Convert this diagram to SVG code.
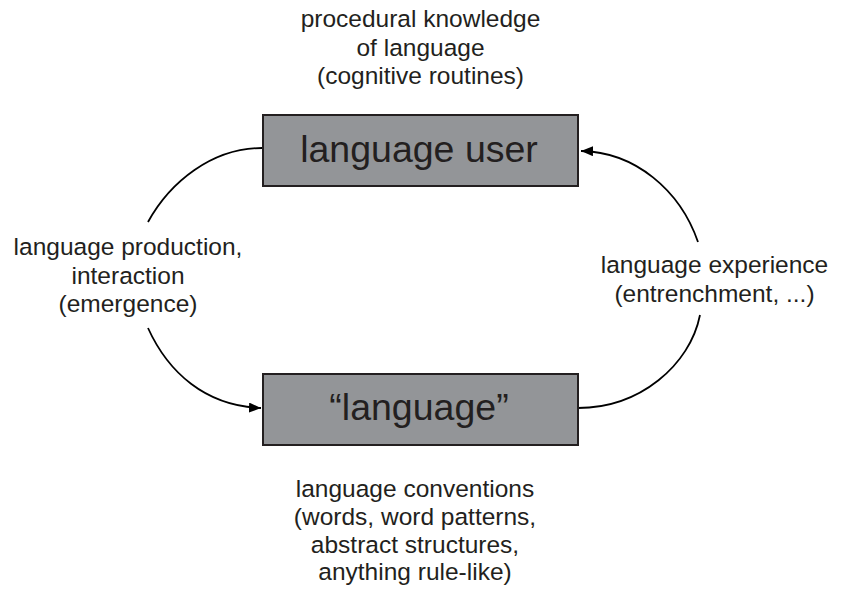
<svg xmlns="http://www.w3.org/2000/svg" width="841" height="589" viewBox="0 0 841 589">
<defs>
<style>
.box{fill:#939598;stroke:#231f20;stroke-width:2}
.t{font-family:"Liberation Sans",Arial,sans-serif;fill:#231f20;text-anchor:middle}
.s{font-size:24.5px}
.b{font-size:37.5px}
.c{fill:none;stroke:#000;stroke-width:1.8}
</style>
<marker id="ah" viewBox="0 0 12 10" refX="12" refY="5" markerWidth="12" markerHeight="10" markerUnits="userSpaceOnUse" orient="auto">
<path d="M0,0 L12,5 L0,10 z" fill="#000"/>
</marker>
</defs>
<rect width="841" height="589" fill="#fff"/>
<g id="connectors">
<path class="c" d="M262,148 C212,148 170,182 148,222"/>
<path class="c" d="M148,328 C168,372 205,406 261,408" marker-end="url(#ah)"/>
<path class="c" d="M578,408 C640,408 690,365 700,315"/>
<path class="c" d="M698,242 C680,190 635,152 581,151" marker-end="url(#ah)"/>
</g>
<g id="user">
<rect class="box" x="263" y="115" width="315" height="71"/>
<text class="t b" x="419" y="162">language user</text>
</g>
<g id="language">
<rect class="box" x="263" y="374" width="315" height="71"/>
<text class="t b" x="419" y="420">“language”</text>
</g>
<g id="label-top">
<text class="t s" x="420.5" y="27">procedural knowledge</text>
<text class="t s" x="420.5" y="55.5">of language</text>
<text class="t s" x="420.5" y="84">(cognitive routines)</text>
</g>
<g id="label-left">
<text class="t s" x="128" y="255">language production,</text>
<text class="t s" x="128" y="283.5">interaction</text>
<text class="t s" x="128" y="312">(emergence)</text>
</g>
<g id="label-right">
<text class="t s" x="714.5" y="273">language experience</text>
<text class="t s" x="714.5" y="301.5">(entrenchment, ...)</text>
</g>
<g id="label-bottom">
<text class="t s" x="415" y="497">language conventions</text>
<text class="t s" x="415" y="525">(words, word patterns,</text>
<text class="t s" x="415" y="552.5">abstract structures,</text>
<text class="t s" x="415" y="580">anything rule-like)</text>
</g>
</svg>
